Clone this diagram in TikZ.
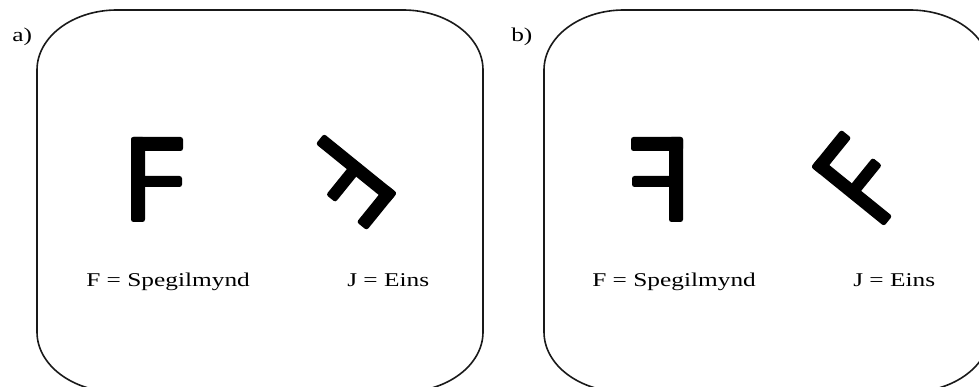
\documentclass[tikz,border=0pt]{standalone}
\usepackage{fontspec}
\setmainfont{Liberation Serif}
\tikzset{
  panelbox/.style={line width=1.6pt, draw=black!90},
  lbl/.style={inner sep=0pt, anchor=base west, xscale=1.3, transform shape, font=\fontsize{19.5}{22}\selectfont},
  glyph/.style={fill=black, rounded corners=2.5pt},
}
\newcommand{\myglyph}{%
  \fill[glyph] (0,0) rectangle (14,-85);
  \fill[glyph] (0,0) rectangle (52,-14);
  \fill[glyph] (7,-39) rectangle (51,-50);
}
\newcommand{\myglyphr}{%
  \fill[glyph] (0,0) rectangle (13,-94);
  \fill[glyph] (0,0) rectangle (48,-13);
  \fill[glyph] (6,-42) rectangle (46,-54);
}
\begin{document}
\begin{tikzpicture}[x=1pt,y=1pt]
\useasboundingbox (0,0) rectangle (979,387);
\clip (0,0) rectangle (979,387);
% panel a box
\draw[panelbox] (117,377) -- (403,377)
  arc[start angle=90,end angle=0,x radius=80,y radius=60] -- (483,55)
  arc[start angle=0,end angle=-90,x radius=80,y radius=60] -- (117,-5)
  arc[start angle=-90,end angle=-180,x radius=80,y radius=60] -- (37,317)
  arc[start angle=180,end angle=90,x radius=80,y radius=60] -- cycle;
% panel b box
\draw[panelbox] (624,377) -- (910,377)
  arc[start angle=90,end angle=0,x radius=80,y radius=60] -- (990,55)
  arc[start angle=0,end angle=-90,x radius=80,y radius=60] -- (624,-5)
  arc[start angle=-90,end angle=-180,x radius=80,y radius=60] -- (544,317)
  arc[start angle=180,end angle=90,x radius=80,y radius=60] -- cycle;
% glyphs
\begin{scope}[shift={(131,250)}] \myglyph \end{scope}
\begin{scope}[shift={(397,194)},rotate=-129] \myglyphr \end{scope}
\begin{scope}[shift={(683,250)},xscale=-1] \myglyph \end{scope}
\begin{scope}[shift={(811,220)},rotate=51] \myglyphr \end{scope}
% labels
\node[lbl] (la) at (12,345) {a)};
\node[lbl] (lb) at (511,345) {b)};
\node[lbl] (fa) at (86,100) {F = Spegilmynd};
\node[lbl] (ja) at (347,100) {J = Eins};
\node[lbl] (fb) at (592,100) {F = Spegilmynd};
\node[lbl] (jb) at (853,100) {J = Eins};
\end{tikzpicture}
\end{document}
